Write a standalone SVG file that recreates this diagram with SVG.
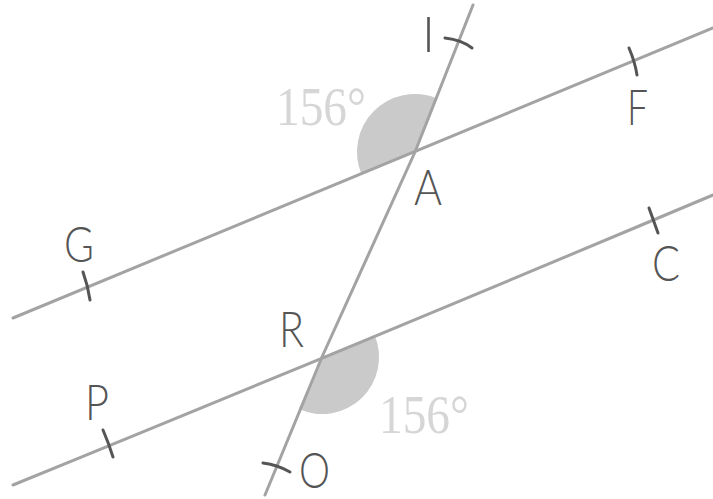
<svg xmlns="http://www.w3.org/2000/svg" width="713" height="499" viewBox="0 0 713 499">
<style>
.ln{stroke:#a3a3a3;stroke-width:3;fill:none;stroke-linecap:round}
.tk{stroke:#555;stroke-width:3;fill:none;stroke-linecap:round}
.sec{fill:#cacaca}
.lbl{font-family:Lato,"Liberation Sans",Arial,sans-serif;font-weight:300;font-size:50px;fill:#555}
.deg{font-family:"Liberation Serif","Times New Roman",serif;font-size:54px;fill:#d6d6d6}
</style>
<rect width="713" height="499" fill="#ffffff"/>
<g id="angles">
<path class="sec" d="M415,152 L436.3,98 A58,58 0 0 0 361.4,174.1 Z"/>
<path class="sec" d="M322,357 L374.7,335.2 A57,57 0 0 1 298.8,409.1 Z"/>
<text class="deg" x="276" y="125" textLength="90" lengthAdjust="spacingAndGlyphs">156°</text>
<text class="deg" x="379" y="433" textLength="90" lengthAdjust="spacingAndGlyphs">156°</text>
</g>
<g id="connectors">
<path class="ln" d="M13,318 Q420,150 713,28"/>
<path class="ln" d="M13,485 Q330,356 713,195"/>
<path class="ln" d="M473,5 L415,152 L322,357 L265,495"/>
</g>
<g id="ticks">
<path class="tk" d="M83,272 Q88,286 90,300"/>
<path class="tk" d="M629,48 Q635,62 637,75"/>
<path class="tk" d="M103,430 Q109,444 113,457"/>
<path class="tk" d="M649,208 Q654,222 658,233"/>
<path class="tk" d="M445,38 Q462,40 472,48"/>
<path class="tk" d="M263,463 Q278,465 290,472"/>
</g>
<g id="node-I"><text class="lbl" x="422" y="52">I</text></g>
<g id="node-A"><text class="lbl" x="414" y="205" textLength="28" lengthAdjust="spacingAndGlyphs">A</text></g>
<g id="node-F"><text class="lbl" x="627" y="125" textLength="21" lengthAdjust="spacingAndGlyphs">F</text></g>
<g id="node-G"><text class="lbl" x="64" y="262" textLength="30" lengthAdjust="spacingAndGlyphs">G</text></g>
<g id="node-C"><text class="lbl" x="652" y="281" textLength="28" lengthAdjust="spacingAndGlyphs">C</text></g>
<g id="node-R"><text class="lbl" x="279" y="347" textLength="25" lengthAdjust="spacingAndGlyphs">R</text></g>
<g id="node-P"><text class="lbl" x="85" y="420" textLength="24" lengthAdjust="spacingAndGlyphs">P</text></g>
<g id="node-O"><text class="lbl" x="299" y="488" textLength="31" lengthAdjust="spacingAndGlyphs">O</text></g>
</svg>
